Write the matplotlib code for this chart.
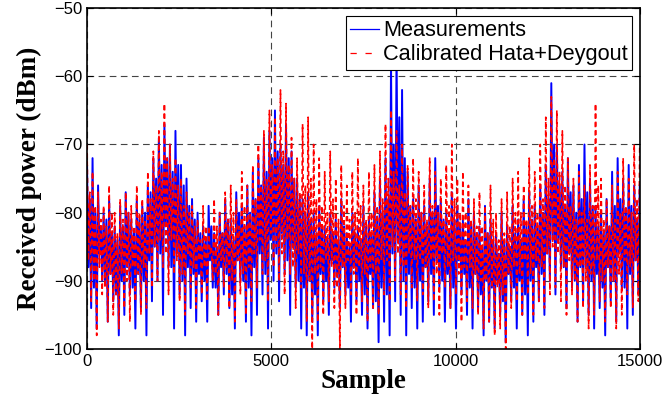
import numpy as np
import matplotlib
matplotlib.use('Agg')
import matplotlib.pyplot as plt

# readings, 4 per block of 150 samples:
# spike top, lower edge of the core band, upper edge of the core band, spike bottom
step = 150

meas_peaks = [-73, -72, -76, -80, -78, -82, -79, -77, -81, -78,
              -79, -76, -72, -69, -67, -70, -68, -73, -75, -78,
              -80, -82, -79, -83, -80, -78, -81, -77, -79, -76,
              -74, -72, -69, -68, -65, -70, -67, -71, -75, -78,
              -77, -80, -79, -82, -80, -81, -78, -83, -80, -82,
              -79, -81, -77, -75, -72, -58, -56, -62, -74, -78,
              -76, -79, -75, -72, -78, -80, -77, -79, -81, -78,
              -80, -82, -79, -81, -83, -80, -82, -79, -81, -78,
              -77, -79, -76, -73, -61, -70, -74, -72, -76, -73,
              -70, -75, -79, -80, -78, -74, -72, -75, -73, -76]
meas_core_lo = [-88, -91, -86, -90, -89, -92, -90, -88, -91, -89,
                -90, -87, -85, -86, -82, -88, -86, -90, -88, -89,
                -89, -90, -87, -91, -88, -89, -92, -87, -90, -91,
                -88, -86, -89, -84, -86, -83, -87, -85, -90, -91,
                -90, -92, -89, -90, -87, -89, -88, -91, -88, -90,
                -92, -89, -93, -91, -92, -86, -84, -90, -89, -91,
                -90, -88, -89, -87, -90, -89, -91, -87, -89, -91,
                -89, -92, -90, -91, -90, -93, -89, -91, -90, -92,
                -90, -88, -89, -86, -84, -84, -88, -86, -90, -88,
                -88, -90, -89, -91, -88, -90, -86, -91, -89, -87]
meas_core_hi = [-78, -80, -82, -81, -83, -84, -82, -80, -83, -81,
                -80, -77, -75, -73, -72, -74, -73, -76, -79, -81,
                -83, -84, -82, -85, -83, -81, -84, -80, -82, -80,
                -78, -76, -74, -72, -71, -73, -72, -75, -78, -80,
                -81, -83, -82, -84, -83, -84, -82, -85, -83, -84,
                -82, -83, -81, -80, -78, -70, -66, -72, -79, -81,
                -80, -82, -80, -79, -81, -83, -81, -82, -84, -82,
                -83, -85, -83, -84, -86, -84, -85, -83, -84, -82,
                -81, -82, -80, -78, -70, -76, -79, -77, -80, -78,
                -77, -79, -82, -83, -82, -79, -78, -80, -79, -81]
meas_dips = [-94, -97, -90, -96, -93, -98, -95, -92, -97, -94,
             -98, -93, -90, -95, -88, -97, -92, -98, -94, -96,
             -93, -96, -91, -95, -92, -94, -97, -90, -96, -98,
             -95, -92, -97, -90, -93, -89, -95, -91, -97, -98,
             -96, -98, -93, -95, -91, -94, -92, -96, -93, -95,
             -97, -94, -99, -96, -98, -93, -95, -98, -94, -97,
             -96, -93, -95, -91, -96, -94, -97, -92, -95, -97,
             -94, -98, -96, -97, -95, -99, -93, -97, -95, -98,
             -96, -93, -95, -90, -92, -88, -94, -91, -96, -93,
             -95, -97, -94, -98, -93, -96, -91, -97, -95, -92]

model_peaks = [-70, -74, -77, -79, -76, -80, -78, -77, -79, -76,
               -78, -74, -71, -68, -64, -70, -72, -75, -77, -79,
               -81, -79, -82, -78, -80, -77, -76, -78, -74, -76,
               -73, -70, -68, -65, -66, -62, -64, -69, -72, -67,
               -66, -70, -72, -74, -71, -75, -73, -76, -74, -72,
               -76, -74, -73, -71, -67, -65, -68, -70, -73, -72,
               -74, -76, -72, -74, -75, -73, -70, -75, -74, -76,
               -78, -77, -79, -76, -80, -78, -77, -75, -74, -76,
               -72, -74, -70, -66, -63, -65, -68, -72, -75, -74,
               -76, -73, -64, -75, -78, -76, -74, -72, -75, -70]
model_core_lo = [-87, -90, -88, -91, -89, -92, -89, -90, -88, -89,
                 -88, -86, -85, -84, -86, -84, -87, -89, -86, -88,
                 -87, -88, -86, -89, -87, -88, -90, -87, -89, -88,
                 -86, -84, -87, -83, -85, -86, -84, -88, -86, -89,
                 -90, -89, -88, -87, -88, -91, -88, -87, -89, -88,
                 -89, -88, -89, -87, -87, -85, -86, -88, -86, -87,
                 -87, -88, -87, -89, -86, -88, -87, -89, -88, -88,
                 -89, -90, -90, -91, -91, -92, -89, -88, -89, -87,
                 -89, -87, -88, -86, -85, -86, -88, -87, -90, -88,
                 -90, -89, -87, -90, -88, -90, -89, -87, -88, -87]
model_core_hi = [-77, -79, -81, -82, -80, -83, -81, -80, -82, -80,
                 -81, -78, -76, -74, -72, -75, -76, -79, -80, -82,
                 -84, -82, -85, -82, -83, -81, -80, -82, -79, -80,
                 -78, -76, -75, -73, -72, -71, -73, -75, -77, -76,
                 -75, -78, -79, -80, -78, -81, -79, -81, -80, -79,
                 -81, -80, -79, -78, -75, -74, -76, -77, -79, -78,
                 -80, -81, -79, -80, -81, -79, -78, -80, -80, -81,
                 -82, -82, -83, -81, -84, -83, -82, -80, -80, -81,
                 -79, -80, -78, -75, -72, -74, -76, -79, -81, -80,
                 -81, -79, -76, -81, -82, -81, -80, -79, -80, -78]
model_dips = [-93, -98, -92, -96, -95, -97, -94, -96, -93, -95,
              -94, -91, -90, -88, -92, -89, -93, -95, -91, -94,
              -92, -93, -90, -95, -91, -94, -96, -92, -95, -93,
              -91, -89, -93, -88, -90, -92, -89, -94, -91, -96,
              -100, -96, -95, -93, -94, -100, -94, -92, -95, -93,
              -96, -94, -95, -92, -93, -90, -92, -94, -91, -93,
              -92, -94, -93, -95, -91, -94, -92, -96, -93, -94,
              -95, -97, -96, -98, -97, -100, -94, -93, -95, -92,
              -95, -93, -94, -92, -91, -93, -95, -92, -96, -94,
              -97, -95, -93, -96, -94, -97, -95, -92, -94, -93]


def trace(peaks, core_lo, core_hi, dips):
    n = len(peaks)
    start = np.arange(n) * step
    x = np.column_stack([start, start + step * 0.25, start + step * 0.5, start + step * 0.75]).ravel()
    y = np.column_stack([peaks, core_lo, core_hi, dips]).ravel()
    return np.append(x, 15000), np.append(y, peaks[-1])


xm, ym = trace(meas_peaks, meas_core_lo, meas_core_hi, meas_dips)
xc, yc = trace(model_peaks, model_core_lo, model_core_hi, model_dips)

plt.rcParams['font.family'] = 'Liberation Sans'
fig = plt.figure(figsize=(6.72, 4.08), dpi=100)
ax = fig.add_axes([0.1295, 0.1446, 0.8225, 0.8354])

ax.plot(xm, ym, color='blue', lw=1.4, label='Measurements')
ax.plot(xc, yc, color='red', lw=1.2, ls=(0, (3, 2)), label='Calibrated Hata+Deygout')

ax.set_xlim(0, 15000)
ax.set_ylim(-100, -50)
ax.set_xticks([0, 5000, 10000, 15000])
ax.set_yticks([-100, -90, -80, -70, -60, -50])
ax.tick_params(direction='in', top=True, right=True, labelsize=12, length=4)
ax.grid(True, color='#444444', ls=(0, (6, 4)), lw=0.8)
for s in ax.spines.values():
    s.set_linewidth(1.2)

ax.set_xlabel('Sample', family='Liberation Serif', fontweight='bold', fontsize=19.5, labelpad=0)
ax.set_ylabel('Received power (dBm)', family='Liberation Serif', fontweight='bold', fontsize=19.5, labelpad=2)

leg = ax.legend(loc='upper right', fontsize=15.7, fancybox=False, framealpha=1,
                edgecolor='black', handlelength=1.3, handletextpad=0.2, borderpad=0.2,
                labelspacing=0.15, borderaxespad=0.35)
leg.get_frame().set_linewidth(0.8)
leg.get_lines()[0].set_linewidth(0.9)
leg.get_lines()[1].set_linewidth(0.9)
leg.get_lines()[1].set_dashes((5, 7))

fig.savefig('out.png', dpi=100)
